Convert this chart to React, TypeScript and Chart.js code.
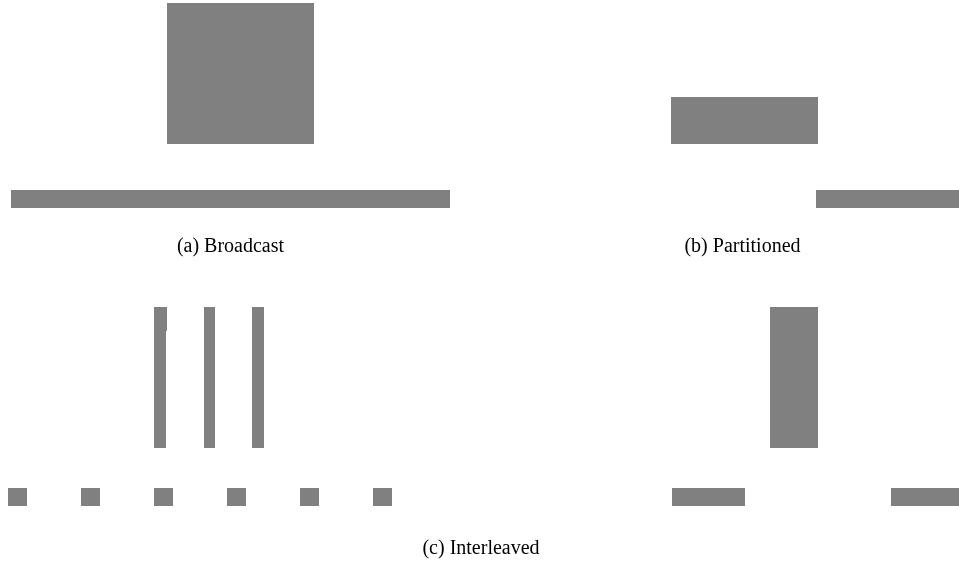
import React, { useEffect, useRef } from "react";
import { Chart, registerables } from "chart.js";

Chart.register(...registerables);

// Diagram space (1 unit = 1 px of the figure): x 0..959, y 0..562 (top-down)
const X_MAX = 959;
const Y_MAX = 562;

// Horizontal bands: vertical extent of each band
const bandNames = [
  "Broadcast block",
  "Partitioned block",
  "Source rows",
  "Interleaved columns",
  "Interleaved notch",
  "Interleaved rows",
];
const bandTop = [3, 97, 190, 307, 307, 488];
const bandBottom = [144, 144, 208, 448, 331, 506];
// Horizontal segments [start, end] inside each band
const bandSegments: number[][][] = [
  [[167, 314]],
  [[671, 818]],
  [[11, 450], [816, 959]],
  [[154, 166], [204, 215], [252, 264], [770, 818]],
  [[154, 167]],
  [[8, 27], [81, 100], [154, 173], [227, 246], [300, 319], [373, 392], [672, 745], [891, 959]],
];

// Captions
const captionTexts = ["(a) Broadcast", "(b) Partitioned", "(c) Interleaved"];
const captionX = [230.5, 742.5, 481];
const captionY = [252, 252, 554];

const BAR_COLOR = "#808080";

const captionPlugin = {
  id: "captions",
  afterDraw(chart: any) {
    const { ctx, scales } = chart;
    ctx.save();
    ctx.fillStyle = "#000";
    ctx.font = '20px "Liberation Serif", "Times New Roman", serif';
    ctx.textAlign = "center";
    ctx.textBaseline = "alphabetic";
    captionTexts.forEach((t, i) => {
      ctx.fillText(t, scales.x.getPixelForValue(captionX[i]), scales.y.getPixelForValue(captionY[i]));
    });
    ctx.restore();
  },
};

export default function App() {
  const ref = useRef<HTMLCanvasElement>(null);

  useEffect(() => {
    if (!ref.current) return;
    const pxPerUnit = 562 / Y_MAX;
    const datasets = bandNames.map((name, i) => ({
      label: name,
      data: bandSegments[i].map((s) => ({ y: (bandTop[i] + bandBottom[i]) / 2, x: [s[0], s[1]] })),
      backgroundColor: BAR_COLOR,
      borderWidth: 0,
      inflateAmount: 0,
      barThickness: (bandBottom[i] - bandTop[i]) * pxPerUnit,
      stack: "all",
    }));
    const chart = new Chart(ref.current, {
      type: "bar",
      data: { datasets: datasets as any },
      options: {
        indexAxis: "y",
        animation: false,
        responsive: false,
        maintainAspectRatio: false,
        layout: { padding: 0 },
        plugins: {
          legend: { display: false },
          title: { display: false },
          tooltip: { enabled: false },
        },
        scales: {
          x: { type: "linear", min: 0, max: X_MAX, display: false, stacked: false, offset: false },
          y: { type: "linear", min: 0, max: Y_MAX, reverse: true, display: false, offset: false },
        },
      },
      plugins: [captionPlugin],
    });
    return () => chart.destroy();
  }, []);

  return (
    <div style={{ position: "fixed", left: 0, top: 0, width: 959, height: 562, background: "#fff" }}>
      <canvas ref={ref} width={959} height={562} style={{ width: 959, height: 562, display: "block" }} />
    </div>
  );
}
